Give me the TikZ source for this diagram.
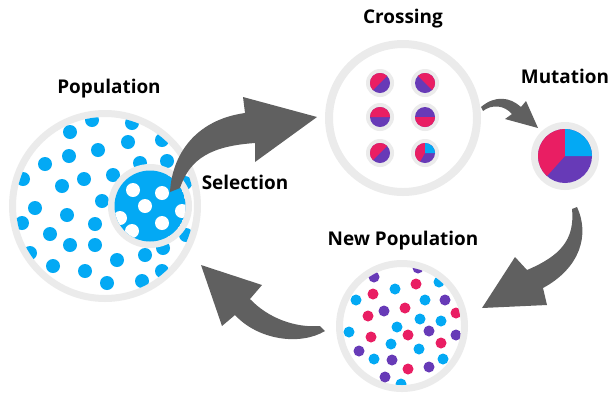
\documentclass[tikz,border=0pt]{standalone}
\usepackage{fontspec}
\setmainfont{Open Sans}
\usepackage{tikz}
\usetikzlibrary{positioning}
\definecolor{dotblue}{RGB}{3,169,244}
\definecolor{dotpink}{RGB}{233,30,99}
\definecolor{dotpurple}{RGB}{103,58,183}
\definecolor{ringgray}{RGB}{235,235,235}
\definecolor{arrowgray}{RGB}{96,96,96}

\begin{document}
\begin{tikzpicture}[
    x=1bp, y=-1bp,
    ring/.style={circle, draw=ringgray, line width=7bp, fill=white, inner sep=0pt},
    chip/.style={circle, fill=ringgray, inner sep=0pt, minimum size=28bp},
    stage/.style={font=\fontsize{19}{21}\selectfont\bfseries, text=black},
    bigarrow/.style={fill=arrowgray}
]
    \useasboundingbox (0,0) rectangle (609,392);

    % Population
    \node[ring, minimum size=185bp] (pop) at (105,206) {};
    \begin{scope}
        \clip (pop.center) circle[radius=89];
        \foreach \px/\py in {92/120, 132/123, 70/132, 128/142, 162/140, 98/150,
            45/164, 69/156, 140/163, 167/161, 23/179, 84/179, 113/175, 62/186,
            102/201, 35/208, 67/215, 22/223, 95/224, 50/234, 70/245, 95/245,
            30/253, 117/260, 145/255, 163/248, 185/183, 186/235, 162/271,
            53/266, 85/271, 107/283, 142/281, 60/292}
            \fill[dotblue] (\px,\py) circle[radius=7];
    \end{scope}
    \node[stage] (pop-label) at (109,89) {Population};

    % Selected individuals
    \node[ring, minimum size=77bp] (sel) at (150,206) {};
    \begin{scope}
        \clip (sel.center) circle[radius=35.5];
        \fill[dotblue] (sel.center) circle[radius=35.5];
        \foreach \px/\py in {133/190, 162/193, 145/206, 120/218, 162/223, 132/231, 182/211}
            \fill[white] (\px,\py) circle[radius=7];
    \end{scope}
    \node[stage] (sel-label) at (245,182) {Selection};

    % Crossing
    \node[ring, line width=8bp, minimum size=148bp] (cross) at (403,118) {};
    \node[stage] (cross-label) at (403,19) {Crossing};
    \node[chip] (c1) at (380,83) {};
    \node[chip] (c2) at (425,83) {};
    \node[chip] (c3) at (380,117) {};
    \node[chip] (c4) at (425,117) {};
    \node[chip] (c5) at (380,153) {};
    \node[chip] (c6) at (425,153) {};
    \foreach \c in {c1,c2,c3,c4,c5,c6}
        \fill[dotpurple] (\c.center) circle[radius=10];
    \fill[dotpink] (c1.center) -- ++(-45:10) arc[start angle=-45, end angle=-225, radius=10] -- cycle;
    \fill[dotpink] (c2.center) -- ++(45:10) arc[start angle=45, end angle=-135, radius=10] -- cycle;
    \fill[dotpink] (c3.center) -- ++(0:10) arc[start angle=0, end angle=-180, radius=10] -- cycle;
    \fill[dotpink] (c4.center) -- ++(0:10) arc[start angle=0, end angle=180, radius=10] -- cycle;
    \fill[dotpink] (c5.center) -- ++(-45:10) arc[start angle=-45, end angle=-225, radius=10] -- cycle;
    \fill[dotpink] (c6.center) -- ++(-90:10) arc[start angle=-90, end angle=-240, radius=10] -- cycle;
    \fill[dotblue] (c6.center) -- ++(0:10) arc[start angle=0, end angle=-90, radius=10] -- cycle;

    % Mutation
    \node[ring, minimum size=61bp] (mut) at (565,156) {};
    \fill[dotpurple] (mut.center) circle[radius=27];
    \fill[dotpink] (mut.center) -- ++(-90:27) arc[start angle=-90, end angle=-228, radius=27] -- cycle;
    \fill[dotblue] (mut.center) -- ++(0:27) arc[start angle=0, end angle=-90, radius=27] -- cycle;
    \node[stage] (mut-label) at (565,76) {Mutation};

    % New population
    \node[ring, minimum size=125bp] (newpop) at (402,326) {};
    \begin{scope}
        \clip (newpop.center) circle[radius=59];
        \foreach \px/\py/\col in {374/277/dotpurple, 418/268/dotpurple, 416/284/dotpink,
            395/289/dotblue, 439/282/dotblue, 373/294/dotpink, 356/300/dotblue,
            425/300/dotblue, 445/300/dotpurple, 405/308/dotpink, 384/311/dotpurple,
            368/316/dotpink, 456/313/dotpink, 420/319/dotblue, 441/321/dotblue,
            397/327/dotblue, 349/332/dotblue, 429/331/dotpurple, 408/335/dotpink,
            371/337/dotpink, 456/335/dotpurple, 441/343/dotpink, 391/344/dotblue,
            359/351/dotpurple, 419/349/dotblue, 374/359/dotblue, 392/360/dotpurple,
            443/359/dotblue, 408/369/dotpink, 429/367/dotpurple, 385/377/dotpurple,
            401/384/dotblue}
            \fill[\col] (\px,\py) circle[radius=5.5];
    \end{scope}
    \node[stage] (newpop-label) at (403,241) {New Population};

    % Arrows between the stages
    \fill[bigarrow] (170,192) .. controls (172,155) and (195,120) .. (245,113)
        -- (243,97) -- (317,117) -- (255,162) -- (255,143)
        .. controls (212,146) and (190,158) .. (180,188) -- cycle;
    \fill[bigarrow] (481,107) .. controls (495,95) and (510,97) .. (521,107)
        -- (526,101) -- (538,128) -- (505,119) -- (512,114)
        .. controls (504,105) and (492,104) .. (483,111) -- cycle;
    \fill[bigarrow] (577,207) .. controls (590,235) and (580,268) .. (543,288)
        -- (547,305) -- (482,308) -- (515,257) -- (527,270)
        .. controls (560,256) and (575,240) .. (572,209) -- cycle;
    \fill[bigarrow] (320,326) .. controls (295,328) and (268,318) .. (250,299)
        -- (262,285) -- (201,265) -- (222,326) -- (235,315)
        .. controls (258,340) and (300,346) .. (325,331) -- cycle;
\end{tikzpicture}
\end{document}
